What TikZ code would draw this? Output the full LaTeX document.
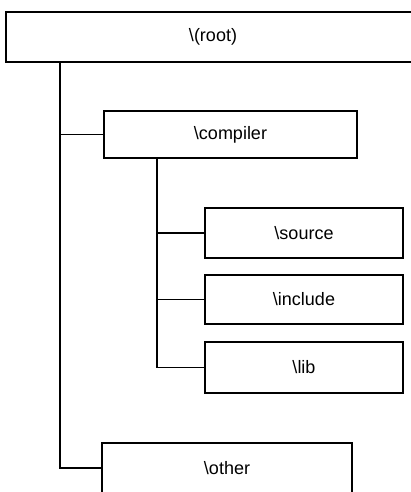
\documentclass[tikz,border=0pt]{standalone}
\usepackage{fontspec}
\setmainfont{Liberation Sans}
\begin{document}
\begin{tikzpicture}[x=1pt,y=-1pt,
  dirbox/.style={draw=black, line width=1.8pt, fill=white, rectangle, inner sep=0pt,
    font=\fontsize{18}{21}\selectfont},
  link/.style={draw=black, line width=1.8pt}]
\useasboundingbox (0,0) rectangle (411,492);
\clip (0,0) rectangle (411,492);
\fill[white] (0,0) rectangle (411,492);
\node[dirbox, minimum width=414pt, minimum height=50pt] (root) at (213,37) {\textbackslash(root)};
\node[dirbox, minimum width=253pt, minimum height=47pt] (compiler) at (230.5,134.5) {\textbackslash compiler};
\node[dirbox, minimum width=198pt, minimum height=50pt] (source) at (304,233) {\textbackslash source};
\node[dirbox, minimum width=198pt, minimum height=49pt] (include) at (304,299.5) {\textbackslash include};
\node[dirbox, minimum width=198pt, minimum height=51pt] (lib) at (304,367.5) {\textbackslash lib};
\node[dirbox, minimum width=250pt, minimum height=50pt] (other) at (227,468) {\textbackslash other};
\coordinate (t1) at (60,62);
\coordinate (t2) at (157,158);
\draw[link] (t1) |- (other.west);
\draw[link] (t1 |- compiler.west) -- (compiler.west);
\draw[link] (t2) |- (lib.west);
\draw[link] (t2 |- source.west) -- (source.west);
\draw[link] (t2 |- include.west) -- (include.west);
\end{tikzpicture}
\end{document}
